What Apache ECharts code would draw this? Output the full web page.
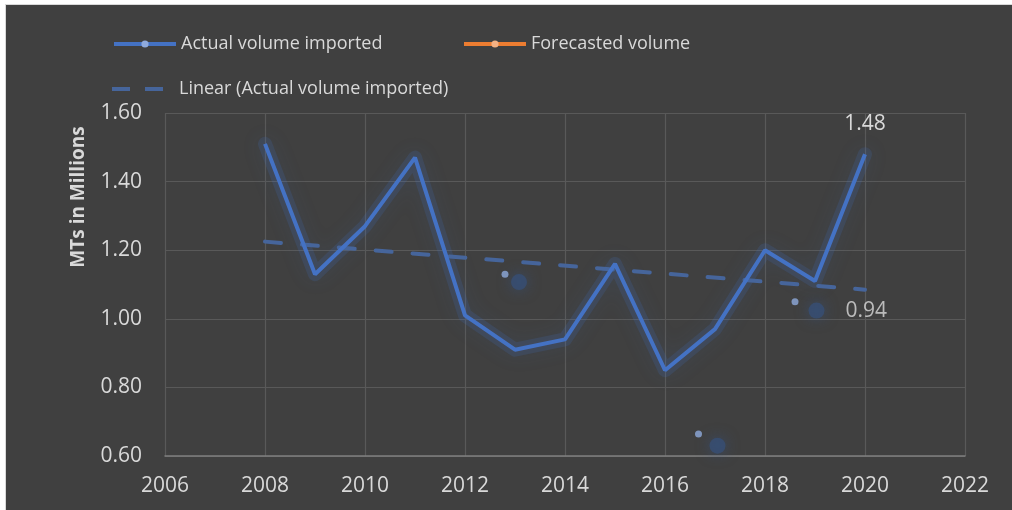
<!DOCTYPE html>
<html>
<head>
<meta charset="utf-8">
<script src="https://cdn.jsdelivr.net/npm/echarts@6/dist/echarts.min.js"></script>
<style>
    body { margin: 0; background: #ffffff; }
    #frame {
        position: absolute; left: 5px; top: 4px;
        width: 1007px; height: 506px;
        border-left: 1px solid #d9d9d9; border-top: 1px solid #d9d9d9;
    }
    #chart { width: 1006px; height: 505px; background: #404040; }
</style>
</head>
<body>
<div id="frame"><div id="chart"></div></div>
<script>
( () => {
    // years and actual import volume (millions of MT)
    const years = [ 2008, 2009, 2010, 2011, 2012, 2013, 2014, 2015, 2016, 2017, 2018, 2019, 2020 ];
    const actualVolume = [ 1.51, 1.13, 1.27, 1.47, 1.01, 0.91, 0.94, 1.16, 0.85, 0.97, 1.20, 1.11, 1.48 ];

    // forecast series has no visible line
    const forecastVolume = [];

    // linear trend end points
    const trendYears = [ 2008, 2020 ];
    const trendValues = [ 1.225, 1.085 ];

    // stray markers floating in the plot
    const smallDotYears = [ 2012.8, 2016.67, 2018.6 ];
    const smallDotValues = [ 1.13, 0.664, 1.05 ];
    const bigDotYears = [ 2013.08, 2017.05, 2019.03 ];
    const bigDotValues = [ 1.107, 0.63, 1.024 ];
    const bigDotLabels = [ '', '', '0.94' ];

    const xTicks = { min: 2006, max: 2022, step: 2 };
    const yTicks = { min: 0.6, max: 1.6, step: 0.2 };

    const textColor = '#d9d9d9';
    const font = '"Open Sans", "Noto Sans", sans-serif';

    const chart = echarts.init( document.getElementById( 'chart' ), null, { renderer: 'canvas' } );

    const actualPoints = years.map( ( y, i ) => [ y, actualVolume[ i ] ] );

    const legendBase = {
        itemWidth: 62,
        itemHeight: 9,
        lineStyle: { width: 4 },
        textStyle: { color: textColor, fontSize: 18, fontFamily: font },
    };

    const option = {
        backgroundColor: '#404040',
        textStyle: { fontFamily: font },
        grid: { left: 159, right: 47, top: 108, bottom: 54 },
        legend: [
            Object.assign( {}, legendBase, {
                left: 101, top: 25,
                data: [ 'Actual volume imported' ],
            } ),
            Object.assign( {}, legendBase, {
                left: 451, top: 25,
                data: [ 'Forecasted volume' ],
            } ),
            Object.assign( {}, legendBase, {
                left: 101, top: 70,
                data: [
                    {
                        name: 'Linear (Actual volume imported)',
                        icon: 'path://M0,0h18v4h-18z M33,0h18v4h-18z M62,0h0v4h0z',
                    },
                ],
            } ),
        ],
        graphic: [
            {
                type: 'text',
                x: 73, y: 192,
                rotation: Math.PI / 2,
                style: {
                    text: 'MTs in Millions',
                    fill: textColor,
                    font: 'bold 19px ' + font,
                    align: 'center',
                    verticalAlign: 'middle',
                },
            },
        ],
        xAxis: {
            type: 'value',
            min: xTicks.min, max: xTicks.max, interval: xTicks.step,
            axisLine: { show: true, lineStyle: { color: '#7f7f7f', width: 1.5 } },
            axisTick: { show: false },
            splitLine: { show: true, lineStyle: { color: '#595959', width: 1.2 } },
            axisLabel: {
                color: textColor, fontSize: 21, margin: 20, fontFamily: font,
                formatter: ( v ) => String( v ),
            },
        },
        yAxis: {
            type: 'value',
            min: yTicks.min, max: yTicks.max, interval: yTicks.step,
            axisLine: { show: false },
            axisTick: { show: false },
            splitLine: { show: true, lineStyle: { color: '#595959', width: 1.2 } },
            axisLabel: {
                color: textColor, fontSize: 21, margin: 23, fontFamily: font,
                formatter: ( v ) => v.toFixed( 2 ),
            },
        },
        series: [
            {
                // soft glow under the actual line
                name: 'glow',
                type: 'line',
                z: 1,
                symbol: 'none',
                silent: true,
                data: actualPoints,
                lineStyle: {
                    color: 'rgba(68,114,196,0.17)', width: 14, join: 'round', cap: 'round',
                    shadowBlur: 20, shadowColor: 'rgba(68,114,196,0.55)',
                },
            },
            {
                name: 'Linear (Actual volume imported)',
                type: 'line',
                symbol: 'none',
                z: 2,
                data: trendYears.map( ( y, i ) => [ y, trendValues[ i ] ] ),
                itemStyle: { color: '#46659b' },
                lineStyle: { color: '#46659b', width: 4, type: [ 16, 21 ], cap: 'round' },
                silent: true,
            },
            {
                name: 'bigDots',
                type: 'scatter',
                symbolSize: 16,
                z: 2,
                data: bigDotYears.map( ( y, i ) => [ y, bigDotValues[ i ] ] ),
                itemStyle: { color: 'rgba(53,81,127,0.8)', shadowBlur: 14, shadowColor: 'rgba(53,81,127,1)' },
                label: {
                    show: true,
                    position: 'right',
                    distance: 21,
                    color: textColor,
                    fontSize: 21,
                    fontFamily: font,
                    formatter: ( p ) => bigDotLabels[ p.dataIndex ],
                },
            },
            {
                name: 'smallDots',
                type: 'scatter',
                symbolSize: 7,
                z: 3,
                data: smallDotYears.map( ( y, i ) => [ y, smallDotValues[ i ] ] ),
                itemStyle: { color: '#8faadc' },
            },
            {
                name: 'Actual volume imported',
                type: 'line',
                z: 4,
                symbol: 'circle',
                symbolSize: 6,
                showSymbol: false,
                data: actualPoints,
                itemStyle: { color: '#8faadc' },
                lineStyle: { color: '#4472c4', width: 4 },
                markPoint: {
                    symbol: 'circle',
                    symbolSize: 1,
                    itemStyle: { color: 'rgba(0,0,0,0)' },
                    label: {
                        show: true,
                        position: 'top',
                        distance: 19,
                        color: textColor,
                        fontSize: 21,
                        fontFamily: font,
                        formatter: ( p ) => p.value.toFixed( 2 ),
                    },
                    data: [
                        {
                            coord: actualPoints[ actualPoints.length - 1 ],
                            value: actualVolume[ actualVolume.length - 1 ],
                        },
                    ],
                },
            },
            {
                name: 'Forecasted volume',
                type: 'line',
                symbol: 'circle',
                symbolSize: 6,
                data: forecastVolume,
                itemStyle: { color: '#f4b183' },
                lineStyle: { color: '#ed7d31', width: 4 },
            },
        ],
    };

    chart.setOption( option );

    window.addEventListener( 'resize', () => {
        chart.resize();
    } );
} ) ();
</script>
</body>
</html>
